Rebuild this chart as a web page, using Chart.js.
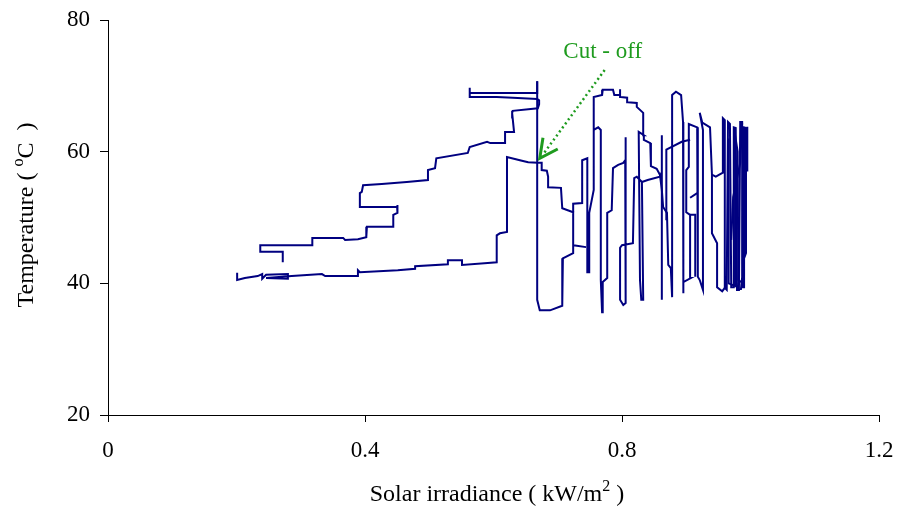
<!DOCTYPE html>
<html><head><meta charset="utf-8">
<script src="https://cdn.jsdelivr.net/npm/chart.js@4.4.1/dist/chart.umd.min.js"></script>
<style>html,body{margin:0;padding:0;background:#fff}#wrap{width:897px;height:508px}</style>
</head><body><div id="wrap"><canvas id="c" width="897" height="508"></canvas></div>
<script>
// ---- data (x: solar irradiance kW/m2, y: temperature °C) ----
const xTicks = [0, 0.4, 0.8, 1.2];
const xTickLabels = ['0', '0.4', '0.8', '1.2'];
const yTicks = [20, 40, 60, 80];
const yTickLabels = ['20', '40', '60', '80'];

const lowerBranch = [[0.201,41.6],[0.201,40.5],[0.213,40.8],[0.233,41.1],[0.240,41.4],[0.240,40.7],[0.246,41.3],[0.280,41.4],[0.280,40.7],[0.246,40.8],[0.286,41.1],[0.333,41.4],[0.338,41.1],[0.388,41.1],[0.389,42.0],[0.392,41.7],[0.451,42.0],[0.478,42.2],[0.478,42.6],[0.529,42.9],[0.529,43.5],[0.551,43.5],[0.551,42.8],[0.591,43.1],[0.605,43.2],[0.605,47.3],[0.610,47.6],[0.621,47.8],[0.621,59.2],[0.641,58.7],[0.654,58.4],[0.669,58.3]];
const cutoffDrop = [[0.669,58.3],[0.675,58.3],[0.675,57.2],[0.683,57.1],[0.685,56.2],[0.685,54.6],[0.705,54.5],[0.707,51.4],[0.724,50.8],[0.724,45.8],[0.744,45.5],[0.724,45.8],[0.724,44.6],[0.708,43.8],[0.707,36.6],[0.688,35.9],[0.672,35.9],[0.668,37.5],[0.668,70.7]];
const upperBranch = [[0.668,70.7],[0.668,68.9],[0.563,68.9],[0.563,69.7],[0.563,68.3],[0.605,68.3],[0.630,68.2],[0.668,68.0],[0.671,67.8],[0.671,67.2],[0.669,66.6],[0.630,66.2],[0.629,65.9],[0.632,63.0],[0.618,63.0],[0.618,61.3],[0.595,61.3],[0.590,61.5],[0.563,60.7],[0.560,59.8],[0.511,59.0],[0.509,57.5],[0.498,57.2],[0.498,55.7],[0.465,55.4],[0.426,55.1],[0.397,54.9],[0.395,53.9],[0.392,53.7],[0.392,51.6],[0.450,51.6],[0.451,51.9],[0.450,50.7],[0.444,50.4],[0.444,48.6],[0.403,48.6],[0.402,47.0],[0.389,46.7],[0.369,46.6],[0.366,46.9],[0.318,46.9],[0.318,45.8],[0.237,45.8],[0.237,44.8],[0.272,44.8],[0.272,43.2]];
const fluctuationA = [[0.724,50.8],[0.724,52.1],[0.738,52.2],[0.738,58.7],[0.746,59.0],[0.746,41.7],[0.749,41.7],[0.749,50.7],[0.756,54.2],[0.756,63.3],[0.763,63.7],[0.767,63.3],[0.767,40.5],[0.769,35.6],[0.770,35.6],[0.770,40.2],[0.777,40.8],[0.777,50.7],[0.784,51.1],[0.786,57.5],[0.794,58.0],[0.802,58.3],[0.805,58.7],[0.805,62.2],[0.806,62.2],[0.806,37.0],[0.802,36.7],[0.797,37.5],[0.797,45.4],[0.800,45.8],[0.817,46.1],[0.819,56.0],[0.823,56.2],[0.831,55.4],[0.833,37.5],[0.830,37.5],[0.828,40.5],[0.826,63.0],[0.834,62.5],[0.833,65.9],[0.823,66.8],[0.823,67.4],[0.809,67.5],[0.808,68.2],[0.798,68.3],[0.797,69.5],[0.797,68.6],[0.788,68.6],[0.786,69.4],[0.770,69.4],[0.769,68.6],[0.756,68.3],[0.756,63.3]];
const fluctuationB = [[0.834,62.5],[0.834,61.8],[0.844,61.3],[0.845,57.8],[0.854,57.4],[0.859,56.5],[0.862,54.2],[0.864,51.6],[0.870,50.7],[0.872,42.8],[0.876,42.3],[0.878,37.9],[0.878,68.6],[0.884,69.1],[0.892,68.6],[0.895,64.5],[0.895,38.5],[0.896,40.2],[0.907,40.8],[0.906,50.4],[0.900,50.8],[0.900,57.2],[0.904,57.7],[0.904,64.2],[0.917,63.7],[0.918,41.0],[0.921,40.5],[0.926,39.0],[0.926,63.3],[0.921,65.9],[0.925,64.4],[0.937,63.7],[0.940,56.5],[0.946,56.2],[0.957,56.8],[0.957,65.1],[0.960,64.8],[0.960,39.3],[0.963,39.0],[0.965,64.5],[0.968,64.2],[0.970,39.4],[0.973,39.4],[0.974,63.7],[0.977,63.6],[0.979,39.0],[0.982,39.0],[0.984,64.5],[0.987,64.5],[0.987,39.4],[0.990,39.4],[0.990,63.7],[0.993,63.6],[0.993,44.6],[0.990,43.8],[0.985,39.0]];
const crossA = [[0.831,55.4],[0.840,55.7],[0.859,56.2],[0.862,56.9],[0.862,62.5],[0.862,37.5]];
const crossB = [[0.869,49.6],[0.869,60.3],[0.893,61.5],[0.906,61.8]];
const crossC = [[0.940,56.5],[0.940,47.6],[0.948,46.1],[0.948,39.4],[0.956,38.8],[0.960,39.3]];
const crossD = [[0.987,64.4],[0.984,58.3],[0.973,53.1],[0.970,46.6]];
const crossE = [[0.917,53.7],[0.906,53.0]];
const crossF = [[0.906,50.4],[0.914,50.4],[0.914,41.0]];
const crossG = [[0.966,62.0],[0.966,40.0],[0.976,39.6],[0.976,62.5],[0.980,60.0],[0.981,40.5],[0.989,40.0],[0.989,61.0],[0.995,57.0],[0.995,63.8]];

const cutoffLabel = 'Cut - off';
const cutoffTextAt = [0.770, 75.1];
const cutoffDotsFrom = [0.773, 72.4];
const cutoffDotsTo = [0.678, 59.7];
const arrowTip = [0.672, 59.0];
const arrowWingA = [0.677, 62.1];
const arrowWingB = [0.700, 60.4];

const xTitleParts = [{t:'Solar irradiance ( kW/m'},{t:'2',sup:true},{t:' )'}];
const yTitleParts = [{t:'Temperature ( '},{t:'o',sup:true},{t:'C  )'}];

// ---- chart ----
const LINE = '#000080';
const GREEN = 'rgb(30,155,30)';
const FONT = '"Liberation Serif", "Times New Roman", serif';
const segments = [lowerBranch, cutoffDrop, upperBranch, fluctuationA, fluctuationB, crossA, crossB, crossC, crossD, crossE, crossF, crossG];

const datasets = segments.map(seg => ({
  data: seg.map(p => ({x: p[0], y: p[1]})),
  showLine: true, borderColor: LINE, borderWidth: 2, pointRadius: 0,
  tension: 0, fill: false, borderJoinStyle: 'miter'
}));

function richText(ctx, parts, cx, cy) {
  const big = '24px ' + FONT, small = '16px ' + FONT;
  let w = 0;
  parts.forEach(p => { ctx.font = p.sup ? small : big; w += ctx.measureText(p.t).width; });
  let x = cx - w / 2;
  ctx.textBaseline = 'alphabetic';
  ctx.textAlign = 'left';
  parts.forEach(p => {
    ctx.font = p.sup ? small : big;
    ctx.fillText(p.t, x, p.sup ? cy + 8 - 10 : cy + 8);
    x += ctx.measureText(p.t).width;
  });
}

const overlay = {
  id: 'overlay',
  afterDraw(chart) {
    const ctx = chart.ctx, xs = chart.scales.x, ys = chart.scales.y;
    const P = v => [xs.getPixelForValue(v[0]), ys.getPixelForValue(v[1])];
    ctx.save();
    ctx.fillStyle = '#000';
    richText(ctx, xTitleParts, 497, 493);
    ctx.save();
    ctx.translate(25, 215);
    ctx.rotate(-Math.PI / 2);
    richText(ctx, yTitleParts, 0, 0);
    ctx.restore();
    // cut-off annotation
    ctx.fillStyle = GREEN;
    ctx.font = '23px ' + FONT;
    ctx.textAlign = 'center';
    ctx.textBaseline = 'middle';
    const t = P(cutoffTextAt);
    ctx.fillText(cutoffLabel, t[0], t[1]);
    ctx.strokeStyle = GREEN;
    ctx.lineWidth = 2.5;
    ctx.setLineDash([2, 3]);
    const a = P(cutoffDotsFrom), b = P(cutoffDotsTo);
    ctx.beginPath(); ctx.moveTo(a[0], a[1]); ctx.lineTo(b[0], b[1]); ctx.stroke();
    ctx.setLineDash([]);
    ctx.lineWidth = 3;
    const tip = P(arrowTip), w1 = P(arrowWingA), w2 = P(arrowWingB);
    ctx.beginPath(); ctx.moveTo(w1[0], w1[1]); ctx.lineTo(tip[0], tip[1]); ctx.lineTo(w2[0], w2[1]); ctx.stroke();
    ctx.restore();
  }
};

new Chart(document.getElementById('c'), {
  type: 'scatter',
  data: { datasets },
  options: {
    responsive: false, animation: false, devicePixelRatio: 1,
    layout: { padding: { left: 0, right: 18, top: 20, bottom: 0 } },
    plugins: { legend: { display: false }, tooltip: { enabled: false } },
    scales: {
      x: {
        type: 'linear', min: 0, max: 1.2,
        afterFit: s => { s.height = 93; s.paddingLeft = 0; s.paddingRight = 0; s.paddingTop = 0; s.paddingBottom = 0; },
        afterBuildTicks: s => { s.ticks = xTicks.map(v => ({value: v})); },
        ticks: { color: '#000', font: { family: FONT, size: 23 }, padding: 15, maxRotation: 0,
          callback: (v, i) => xTickLabels[i] },
        grid: { display: true, drawOnChartArea: false, drawTicks: true, tickLength: 7, color: '#000', lineWidth: 1 },
        border: { display: true, color: '#000', width: 1 }
      },
      y: {
        type: 'linear', min: 20, max: 80,
        afterFit: s => { s.width = 108; s.paddingLeft = 0; s.paddingRight = 0; s.paddingTop = 0; s.paddingBottom = 0; },
        afterBuildTicks: s => { s.ticks = yTicks.map(v => ({value: v})); },
        ticks: { color: '#000', font: { family: FONT, size: 23 }, padding: 10,
          callback: (v, i) => yTickLabels[i] },
        grid: { display: true, drawOnChartArea: false, drawTicks: true, tickLength: 8, color: '#000', lineWidth: 1 },
        border: { display: true, color: '#000', width: 1 }
      }
    }
  },
  plugins: [overlay]
});
</script></body></html>
